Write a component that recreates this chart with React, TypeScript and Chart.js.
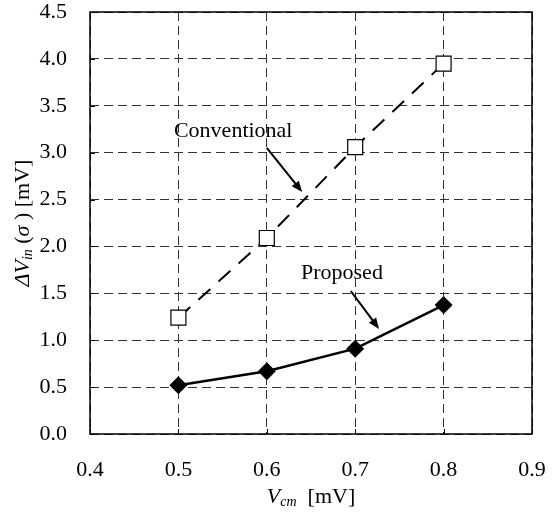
import React, { useEffect, useRef } from "react";
import { Chart, registerables } from "chart.js";

Chart.register(...registerables);

// ---- data ----
const xValues = [0.5, 0.6, 0.7, 0.8];
const conventional = [1.24, 2.09, 3.06, 3.95];
const proposed = [0.52, 0.67, 0.91, 1.375];
const seriesNames = ["Conventional", "Proposed"];

// annotation anchors (data coordinates): [textX, textY, arrowStartX, arrowStartY, arrowEndX, arrowEndY]
const convAnnotation = [0.562, 3.167, 0.6, 3.05, 0.64, 2.58];
const propAnnotation = [0.685, 1.653, 0.695, 1.525, 0.727, 1.12];

const xTitleMain = "V";
const xTitleSub = "cm";
const xTitleUnit = "[mV]";

const SERIF = "'Liberation Serif', 'Times New Roman', serif";
const FS = 22;

type Seg = { t: string; size: number; italic?: boolean; dy?: number };

function drawSegs(ctx: CanvasRenderingContext2D, segs: Seg[], cx: number, cy: number) {
  let total = 0;
  for (const s of segs) {
    ctx.font = `${s.italic ? "italic " : ""}${s.size}px ${SERIF}`;
    total += ctx.measureText(s.t).width;
  }
  let x = cx - total / 2;
  for (const s of segs) {
    ctx.font = `${s.italic ? "italic " : ""}${s.size}px ${SERIF}`;
    ctx.fillText(s.t, x, cy + (s.dy || 0));
    x += ctx.measureText(s.t).width;
  }
}

function drawArrow(ctx: CanvasRenderingContext2D, x1: number, y1: number, x2: number, y2: number) {
  const ang = Math.atan2(y2 - y1, x2 - x1);
  const head = 11;
  const half = 4.5;
  ctx.save();
  ctx.strokeStyle = "#000";
  ctx.fillStyle = "#000";
  ctx.lineWidth = 2;
  ctx.beginPath();
  ctx.moveTo(x1, y1);
  ctx.lineTo(x2 - Math.cos(ang) * head * 0.8, y2 - Math.sin(ang) * head * 0.8);
  ctx.stroke();
  ctx.beginPath();
  ctx.moveTo(x2, y2);
  ctx.lineTo(
    x2 - Math.cos(ang) * head - Math.sin(ang) * half,
    y2 - Math.sin(ang) * head + Math.cos(ang) * half
  );
  ctx.lineTo(
    x2 - Math.cos(ang) * head + Math.sin(ang) * half,
    y2 - Math.sin(ang) * head - Math.cos(ang) * half
  );
  ctx.closePath();
  ctx.fill();
  ctx.restore();
}

const decorPlugin = {
  id: "decor",
  afterDatasetsDraw(chart: any) {
    const ctx = chart.ctx as CanvasRenderingContext2D;
    const xs = chart.scales.x;
    const ys = chart.scales.y;
    ctx.save();
    ctx.fillStyle = "#000";
    ctx.textBaseline = "alphabetic";
    ctx.textAlign = "left";
    const anns: [number[], string][] = [
      [convAnnotation, seriesNames[0]],
      [propAnnotation, seriesNames[1]],
    ];
    for (const [a, label] of anns) {
      drawSegs(ctx, [{ t: label, size: FS }], xs.getPixelForValue(a[0]), ys.getPixelForValue(a[1]));
      drawArrow(
        ctx,
        xs.getPixelForValue(a[2]),
        ys.getPixelForValue(a[3]),
        xs.getPixelForValue(a[4]),
        ys.getPixelForValue(a[5])
      );
    }
    ctx.restore();
  },
  afterDraw(chart: any) {
    const ctx = chart.ctx as CanvasRenderingContext2D;
    const { left, right, top, bottom } = chart.chartArea;
    const xs = chart.scales.x;
    const ys = chart.scales.y;
    ctx.save();
    // inner ticks
    ctx.strokeStyle = "#000";
    ctx.lineWidth = 1;
    ctx.beginPath();
    for (const t of xs.ticks) {
      const px = Math.round(xs.getPixelForValue(t.value)) + 0.5;
      ctx.moveTo(px, bottom);
      ctx.lineTo(px, bottom - 5);
    }
    for (const t of ys.ticks) {
      const py = Math.round(ys.getPixelForValue(t.value)) + 0.5;
      ctx.moveTo(left, py);
      ctx.lineTo(left + 5, py);
    }
    ctx.stroke();
    // box
    ctx.lineWidth = 1.5;
    ctx.strokeRect(left, top, right - left, bottom - top);

    // axis titles
    ctx.fillStyle = "#000";
    ctx.textBaseline = "alphabetic";
    ctx.textAlign = "left";
    drawSegs(
      ctx,
      [
        { t: xTitleMain, size: FS, italic: true },
        { t: xTitleSub, size: 14, italic: true, dy: 3 },
        { t: "  " + xTitleUnit, size: FS },
      ],
      (left + right) / 2,
      503
    );
    ctx.save();
    ctx.translate(29, (top + bottom) / 2);
    ctx.rotate(-Math.PI / 2);
    drawSegs(
      ctx,
      [
        { t: "\u0394", size: FS, italic: true },
        { t: "V", size: FS, italic: true },
        { t: "in", size: 14, italic: true, dy: 3 },
        { t: " (", size: FS },
        { t: "\u03C3", size: FS, italic: true },
        { t: " )", size: FS },
        { t: " " + xTitleUnit, size: FS },
      ],
      0,
      0
    );
    ctx.restore();
    ctx.restore();
  },
};

export default function App() {
  const ref = useRef<HTMLCanvasElement>(null);
  useEffect(() => {
    if (!ref.current) return;
    const chart = new Chart(ref.current, {
      type: "scatter",
      data: {
        datasets: [
          {
            label: seriesNames[0],
            data: xValues.map((x, i) => ({ x, y: conventional[i] })),
            showLine: true,
            borderColor: "#000",
            borderWidth: 2,
            borderDash: [16, 11],
            pointStyle: "rect",
            pointRadius: 10.6,
            pointBorderWidth: 1.2,
            pointBackgroundColor: "#fff",
            pointBorderColor: "#000",
          },
          {
            label: seriesNames[1],
            data: xValues.map((x, i) => ({ x, y: proposed[i] })),
            showLine: true,
            borderColor: "#000",
            borderWidth: 2.5,
            pointStyle: "rectRot",
            pointRadius: 9,
            pointBorderWidth: 0,
            pointBackgroundColor: "#000",
            pointBorderColor: "#000",
          },
        ],
      },
      options: {
        animation: false,
        responsive: false,
        devicePixelRatio: 1,
        layout: { padding: { left: 0, right: 23, top: 12, bottom: 0 } },
        plugins: { legend: { display: false }, tooltip: { enabled: false } },
        scales: {
          x: {
            type: "linear",
            min: 0.4,
            max: 0.9,
            afterFit: (s: any) => {
              s.height = 81;
              s.paddingLeft = 0;
              s.paddingRight = 0;
            },
            ticks: {
              stepSize: 0.1,
              padding: 23,
              color: "#000",
              font: { family: SERIF, size: FS },
              callback: (v: any) => Number(v).toFixed(1),
            },
            grid: { color: "#333", lineWidth: 1, drawTicks: false },
            border: { display: false, dash: [9, 5] },
          },
          y: {
            type: "linear",
            min: 0,
            max: 4.5,
            afterFit: (s: any) => {
              s.width = 90;
              s.paddingTop = 0;
              s.paddingBottom = 0;
            },
            ticks: {
              stepSize: 0.5,
              padding: 23,
              color: "#000",
              font: { family: SERIF, size: FS },
              callback: (v: any) => Number(v).toFixed(1),
            },
            grid: { color: "#333", lineWidth: 1, drawTicks: false },
            border: { display: false, dash: [9, 5] },
          },
        },
      },
      plugins: [decorPlugin],
    });
    return () => chart.destroy();
  }, []);
  return (
    <div style={{ position: "fixed", left: 0, top: 0, width: 555, height: 515, background: "#fff" }}>
      <canvas ref={ref} width={555} height={515} style={{ width: 555, height: 515, display: "block" }} />
    </div>
  );
}
